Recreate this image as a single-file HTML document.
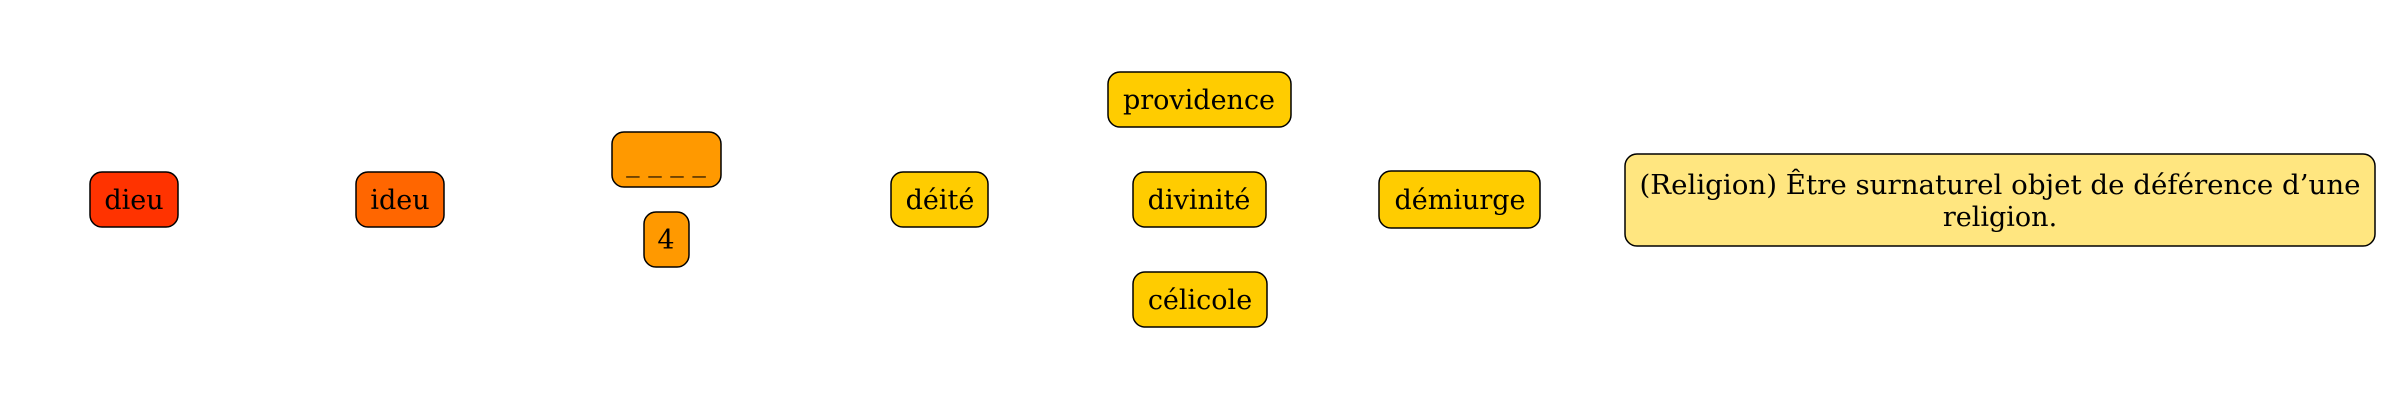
<!DOCTYPE html>
<html><head><meta charset="utf-8"><style>html,body{margin:0;padding:0;background:#fff}svg{display:block}</style></head>
<body>
<svg width="2400" height="400" viewBox="0 0 2400 400" xmlns="http://www.w3.org/2000/svg" font-family="'DejaVu Serif', serif" font-size="27">
<g stroke="#000" stroke-width="1.5">
<rect x="90" y="172" width="88" height="55" rx="12" fill="#ff3300"/>
<rect x="356" y="172" width="88" height="55" rx="12" fill="#ff6600"/>
<rect x="612" y="132" width="109" height="55" rx="12" fill="#ff9900"/>
<rect x="644" y="212" width="45" height="55" rx="12" fill="#ff9900"/>
<rect x="891" y="172" width="97" height="55" rx="12" fill="#ffcc00"/>
<rect x="1108" y="72" width="183" height="55" rx="12" fill="#ffcc00"/>
<rect x="1133" y="172" width="133" height="55" rx="12" fill="#ffcc00"/>
<rect x="1133" y="272" width="134" height="55" rx="12" fill="#ffcc00"/>
<rect x="1379" y="171" width="161" height="57" rx="12" fill="#ffcc00"/>
<rect x="1625" y="154" width="750" height="92" rx="12" fill="#ffe680"/>
</g>
<g fill="#000" text-anchor="middle">
<text x="134" y="209">dieu</text>
<text x="400" y="209">ideu</text>
<text x="666" y="171">_ _ _ _</text>
<text x="666" y="249">4</text>
<text x="940" y="209">déité</text>
<text x="1199" y="109">providence</text>
<text x="1199" y="209">divinité</text>
<text x="1200" y="309">célicole</text>
<text x="1460" y="209">démiurge</text>
<text x="2000" y="194" textLength="721" lengthAdjust="spacingAndGlyphs">(Religion) Être surnaturel objet de déférence d’une</text>
<text x="2000" y="226">religion.</text>
</g>
</svg>
</body></html>
